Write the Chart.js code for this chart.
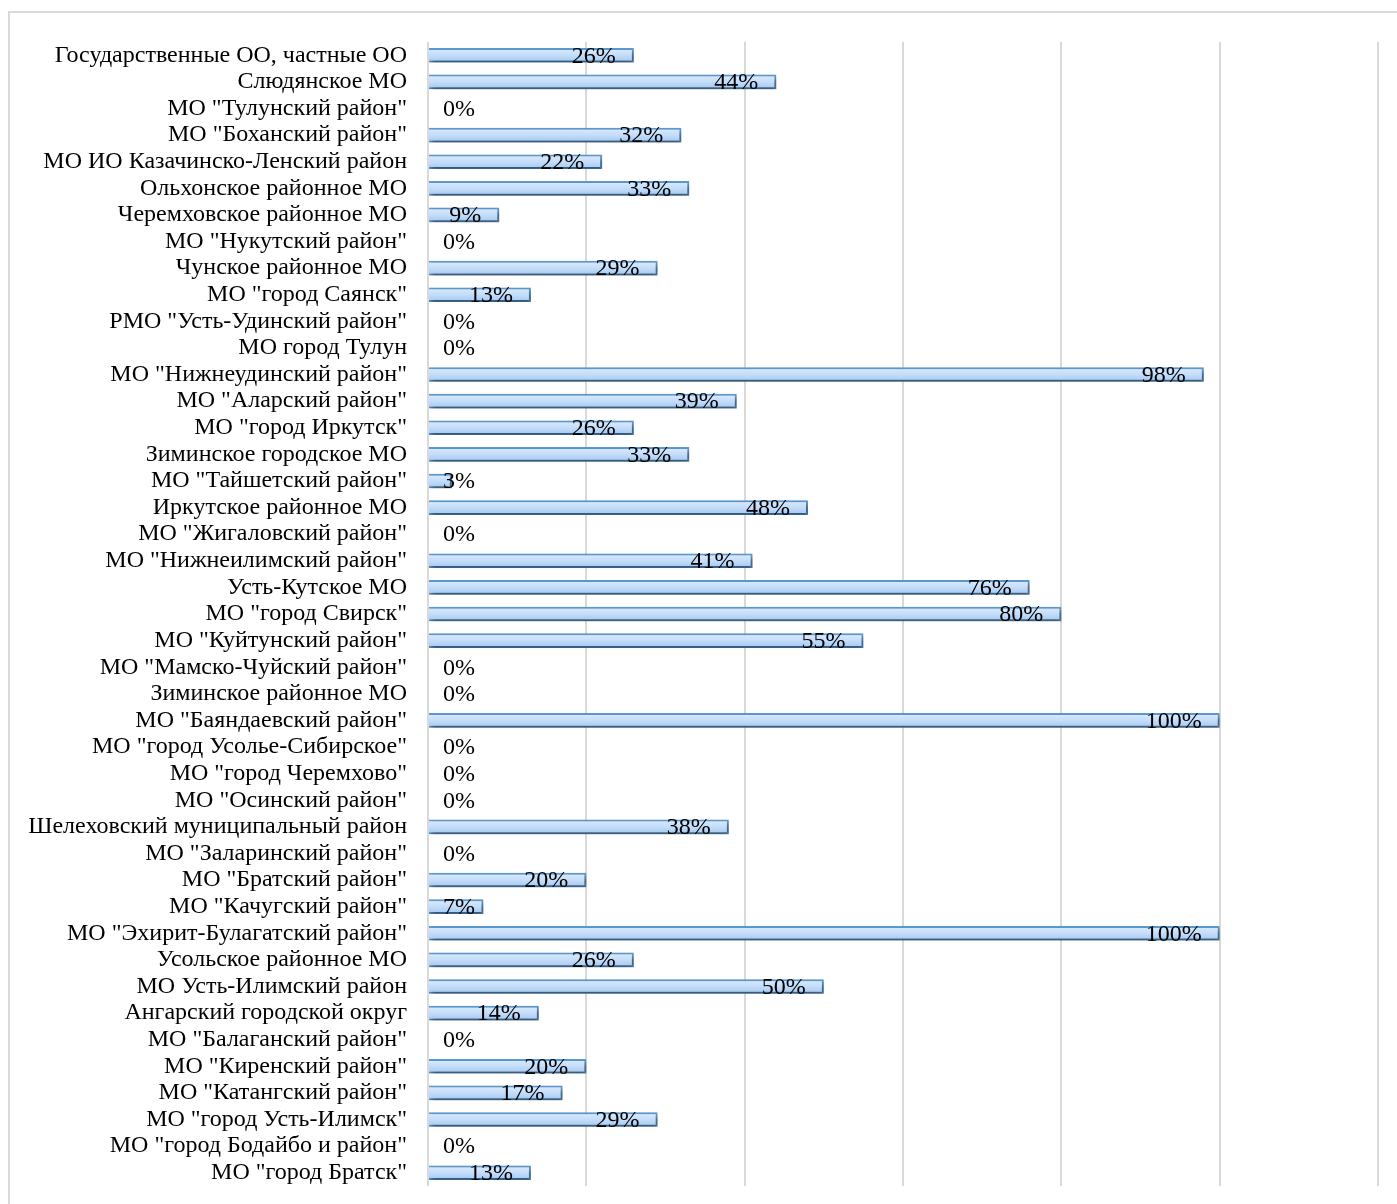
<!DOCTYPE html>
<html>
<head>
<meta charset="utf-8">
<script src="https://cdn.jsdelivr.net/npm/chart.js@4/dist/chart.umd.min.js"></script>
<style>
    html, body { margin: 0; padding: 0; background: #fff; }
    #wrap { width: 1397px; height: 1204px; position: relative; }
</style>
</head>
<body>
<div id="wrap"><canvas id="barChart"></canvas></div>
<script>
const categories = [
    'Государственные ОО, частные ОО', 'Слюдянское МО', 'МО "Тулунский район"', 'МО "Боханский район"',
    'МО ИО Казачинско-Ленский район', 'Ольхонское районное МО', 'Черемховское районное МО', 'МО "Нукутский район"',
    'Чунское районное МО', 'МО "город Саянск"', 'РМО "Усть-Удинский район"', 'МО город Тулун',
    'МО "Нижнеудинский район"', 'МО "Аларский район"', 'МО "город Иркутск"', 'Зиминское городское МО',
    'МО "Тайшетский район"', 'Иркутское районное МО', 'МО "Жигаловский район"', 'МО "Нижнеилимский район"',
    'Усть-Кутское МО', 'МО "город Свирск"', 'МО "Куйтунский район"', 'МО "Мамско-Чуйский район"',
    'Зиминское районное МО', 'МО "Баяндаевский район"', 'МО "город Усолье-Сибирское"', 'МО "город Черемхово"',
    'МО "Осинский район"', 'Шелеховский муниципальный район', 'МО "Заларинский район"', 'МО "Братский район"',
    'МО "Качугский район"', 'МО "Эхирит-Булагатский район"', 'Усольское районное МО', 'МО Усть-Илимский район',
    'Ангарский городской округ', 'МО "Балаганский район"', 'МО "Киренский район"', 'МО "Катангский район"',
    'МО "город Усть-Илимск"', 'МО "город Бодайбо и район"', 'МО "город Братск"'
];
const shares = [
    26, 44, 0, 32,
    22, 33, 9, 0,
    29, 13, 0, 0,
    98, 39, 26, 33,
    3, 48, 0, 41,
    76, 80, 55, 0,
    0, 100, 0, 0,
    0, 38, 0, 20,
    7, 100, 26, 50,
    14, 0, 20, 17,
    29, 0, 13
];
const xTicks = [0, 20, 40, 60, 80, 100, 120];

const FONT = '"Liberation Serif", "Times New Roman", serif';

// white page + light frame like the original
const framePlugin = {
    id: 'frame',
    beforeDraw(chart) {
        const ctx = chart.ctx;
        ctx.save();
        ctx.fillStyle = '#fff';
        ctx.fillRect(0, 0, chart.width, chart.height);
        ctx.strokeStyle = '#d9d9d9';
        ctx.lineWidth = 2;
        ctx.strokeRect(9, 12, chart.width + 20, chart.height + 20);
        ctx.restore();
    }
};

// soft shadow under bars
const shadowPlugin = {
    id: 'barShadow',
    beforeDatasetsDraw(chart) {
        const ctx = chart.ctx;
        ctx.save();
        ctx.shadowColor = 'rgba(0,0,0,0.5)';
        ctx.shadowBlur = 5;
        ctx.shadowOffsetX = 2;
        ctx.shadowOffsetY = 3;
    },
    afterDatasetsDraw(chart) {
        chart.ctx.restore();
    }
};

// value labels, right-aligned near bar end
const valueLabels = {
    id: 'valueLabels',
    afterDatasetsDraw(chart) {
        const ctx = chart.ctx;
        const xs = chart.scales.x;
        const meta = chart.getDatasetMeta(0);
        const zero = xs.getPixelForValue(0);
        ctx.save();
        ctx.font = '24px ' + FONT;
        ctx.fillStyle = '#000';
        ctx.textAlign = 'right';
        ctx.textBaseline = 'middle';
        meta.data.forEach((bar, i) => {
            const txt = shares[i] + '%';
            const w = ctx.measureText(txt).width;
            const end = xs.getPixelForValue(shares[i]);
            const x = Math.max(end - 18, zero + 15 + w);
            ctx.fillText(txt, x, bar.y + 1);
        });
        ctx.restore();
    }
};

new Chart(document.getElementById('barChart'), {
    type: 'bar',
    data: {
        labels: categories,
        datasets: [{
            data: shares,
            backgroundColor: (c) => {
                const chart = c.chart;
                const ys = chart.scales && chart.scales.y;
                if (!ys || c.dataIndex === undefined) return '#bcd7f5';
                const y = ys.getPixelForValue(c.dataIndex);
                if (!isFinite(y)) return '#bcd7f5';
                const g = chart.ctx.createLinearGradient(0, y - 7, 0, y + 7);
                g.addColorStop(0, '#dcebfd');
                g.addColorStop(0.5, '#c4ddf9');
                g.addColorStop(1, '#a2c8f3');
                return g;
            },
            borderColor: '#5b9bd5',
            borderWidth: 2,
            borderSkipped: 'left',
            barPercentage: 0.55,
            categoryPercentage: 1
        }]
    },
    options: {
        indexAxis: 'y',
        responsive: true,
        maintainAspectRatio: false,
        animation: false,
        layout: { padding: { top: 42, bottom: 18, right: 19, left: 0 } },
        plugins: {
            legend: { display: false },
            tooltip: { enabled: false }
        },
        scales: {
            x: {
                min: 0,
                max: 120,
                afterBuildTicks: (scale) => { scale.ticks = xTicks.map(v => ({ value: v })); },
                afterFit: (scale) => { scale.height = 0; },
                ticks: { display: false },
                border: { display: false },
                grid: { color: '#d9d9d9', lineWidth: 2, drawTicks: false }
            },
            y: {
                afterFit: (scale) => {
                    scale.width = 428;
                    scale.paddingTop = 0;
                    scale.paddingBottom = 0;
                },
                border: { display: false },
                grid: { display: false, drawTicks: false },
                ticks: {
                    padding: 21,
                    autoSkip: false,
                    color: '#000',
                    font: { family: FONT, size: 24 }
                }
            }
        }
    },
    plugins: [framePlugin, shadowPlugin, valueLabels]
});
</script>
</body>
</html>
